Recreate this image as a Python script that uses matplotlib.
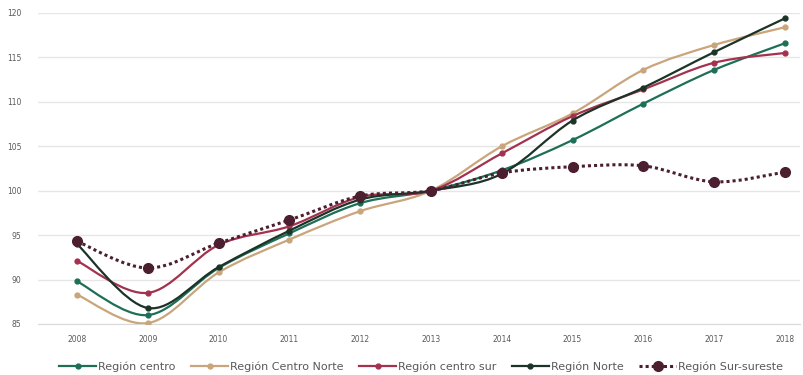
import numpy as np
import matplotlib.pyplot as plt
from matplotlib.path import Path
from matplotlib.patches import PathPatch
from matplotlib.lines import Line2D

# Datos
anios = [2008, 2009, 2010, 2011, 2012, 2013, 2014, 2015, 2016, 2017, 2018]
centro = [89.8, 86.0, 91.3, 95.2, 98.6, 100.0, 102.3, 105.7, 109.8, 113.6, 116.6]
centro_norte = [88.3, 85.1, 90.8, 94.5, 97.7, 100.0, 105.0, 108.7, 113.6, 116.4, 118.4]
centro_sur = [92.1, 88.5, 93.9, 96.0, 99.3, 100.0, 104.2, 108.4, 111.4, 114.4, 115.5]
norte = [94.0, 86.8, 91.4, 95.5, 99.0, 100.0, 101.9, 107.9, 111.6, 115.6, 119.4]
sur_sureste = [94.3, 91.3, 94.1, 96.7, 99.4, 100.0, 102.0, 102.7, 102.8, 101.0, 102.1]

series = ["Región centro", "Región Centro Norte", "Región centro sur", "Región Norte", "Región Sur-sureste"]
colores = ["#1d6f57", "#c9a57c", "#a3324f", "#1c3327", "#4b1f2f"]


def curva(x, y):
    # curva suavizada tipo excel (bezier por tramos)
    x = np.asarray(x, float)
    y = np.asarray(y, float)
    verts = [(x[0], y[0])]
    codes = [Path.MOVETO]
    n = len(x)
    for i in range(n - 1):
        i0 = max(i - 1, 0)
        i3 = min(i + 2, n - 1)
        c1 = (x[i] + (x[i + 1] - x[i0]) / 6, y[i] + (y[i + 1] - y[i0]) / 6)
        c2 = (x[i + 1] - (x[i3] - x[i]) / 6, y[i + 1] - (y[i3] - y[i]) / 6)
        verts += [c1, c2, (x[i + 1], y[i + 1])]
        codes += [Path.CURVE4] * 3
    return Path(verts, codes)


fig = plt.figure(figsize=(8.04, 3.75), dpi=100)
ax = fig.add_axes([38 / 804, 1 - 324 / 375, 762 / 804, 311 / 375])

datos = [centro, centro_norte, centro_sur, norte, sur_sureste]
handles = []
for k, (nombre, vals, col) in enumerate(zip(series, datos, colores)):
    if k == 4:
        ls, lw, ms = (0, (1, 1)), 2.2, 7
    else:
        ls, lw, ms = "-", 1.6, 3.5
    ax.add_patch(PathPatch(curva(anios, vals), fill=False, edgecolor=col,
                           lw=lw, linestyle=ls, zorder=2 + k))
    ax.plot(anios, vals, "o", color=col, ms=ms, zorder=2.5 + k)
    handles.append(Line2D([], [], color=col, lw=lw, linestyle=ls, marker="o", ms=ms))

ax.set_xlim(2007.449, 2018.212)
ax.set_ylim(85, 120)
ax.set_yticks(np.arange(85, 121, 5))
ax.set_xticks(anios)
ax.grid(axis="y", color="#e6e6e6", lw=1)
ax.set_axisbelow(True)
for s in ["top", "right", "left"]:
    ax.spines[s].set_visible(False)
ax.spines["bottom"].set_color("#d9d9d9")
ax.tick_params(length=0, labelsize=5.5, colors="#595959")
ax.tick_params(axis="x", pad=8)
ax.tick_params(axis="y", pad=12)

fig.legend(handles, series, loc="lower center", bbox_to_anchor=(0.524, -0.018), ncol=5,
           frameon=False, fontsize=8, labelcolor="#595959", handlelength=3.3,
           columnspacing=1.4, handletextpad=0.2)

fig.savefig("out.png", dpi=100, facecolor="white")
